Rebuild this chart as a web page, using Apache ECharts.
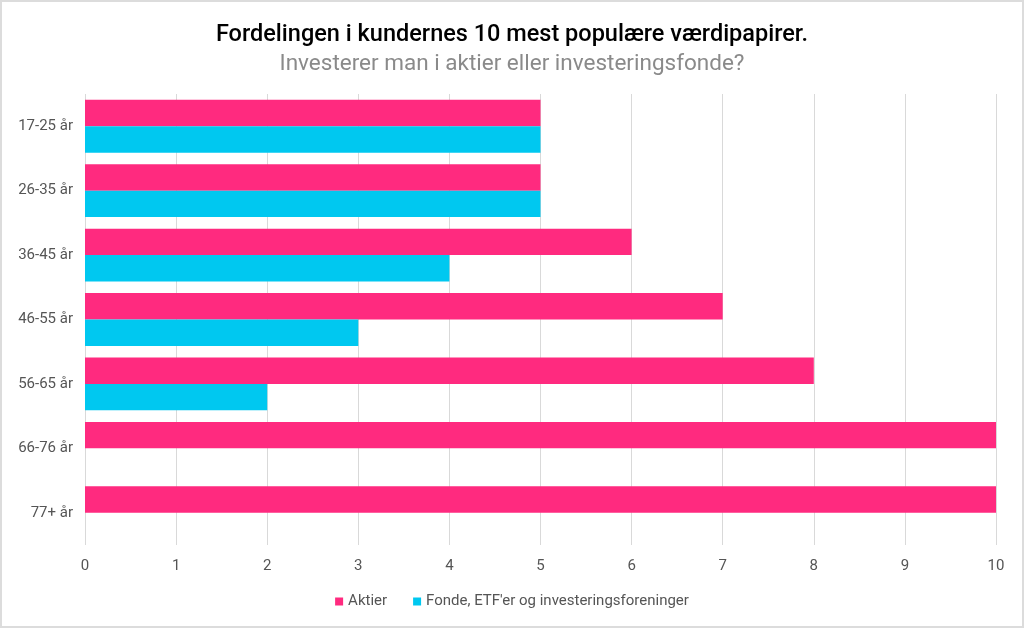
<!DOCTYPE html>
<html><head><meta charset="utf-8">
<script src="https://cdn.jsdelivr.net/npm/echarts@6/dist/echarts.min.js"></script>
<style>html,body{margin:0;padding:0;background:#fff}#c{width:1024px;height:628px;box-sizing:border-box;border:2px solid #dcdcdc}</style>
</head><body><div id="c"></div>
<script>
const categories = ['17-25 år','26-35 år','36-45 år','46-55 år','56-65 år','66-76 år','77+ år'];
const aktier = [5,5,6,7,8,10,10];
const fonde = [5,5,4,3,2,0,0];
const xTicks = [0,1,2,3,4,5,6,7,8,9,10];
const seriesNames = ['Aktier', "Fonde, ETF'er og investeringsforeninger"];
const titleText = 'Fordelingen i kundernes 10 mest populære værdipapirer.';
const subText = 'Investerer man i aktier eller investeringsfonde?';

const chart = echarts.init(document.getElementById('c'));
chart.setOption({
  animation:false,
  title:{text:titleText, subtext:subText, left:'center', top:16, itemGap:6,
    textStyle:{fontFamily:'Roboto', fontWeight:500, fontSize:23.5, color:'#000'},
    subtextStyle:{fontFamily:'Roboto', fontSize:22.5, color:'#8a8a8a'}},
  legend:{bottom:12, left:'center', itemWidth:8, itemHeight:8, itemGap:26, itemStyle:{borderWidth:0},
    icon:'rect', textStyle:{fontFamily:'Roboto', fontSize:15, color:'#555'}, data:seriesNames},
  grid:{left:83, right:26, top:92, bottom:81, containLabel:false},
  xAxis:{type:'value', min:xTicks[0], max:xTicks[xTicks.length-1], interval:1,
    axisLine:{show:false}, axisTick:{show:false},
    axisLabel:{fontFamily:'Roboto', fontSize:15, color:'#555', margin:14},
    splitLine:{lineStyle:{color:'#d9d9d9', width:1}}},
  yAxis:{type:'category', data:categories, inverse:true,
    axisLine:{show:false}, axisTick:{show:false},
    axisLabel:{fontFamily:'Roboto', fontSize:15, color:'#555', margin:12}},
  series:[
    {name:seriesNames[0], type:'bar', data:aktier, barGap:'0%', barCategoryGap:'18%', itemStyle:{color:'#FF2A7F'}},
    {name:seriesNames[1], type:'bar', data:fonde, barGap:'0%', barCategoryGap:'18%', itemStyle:{color:'#00C8F0'}}
  ]
});
</script></body></html>
